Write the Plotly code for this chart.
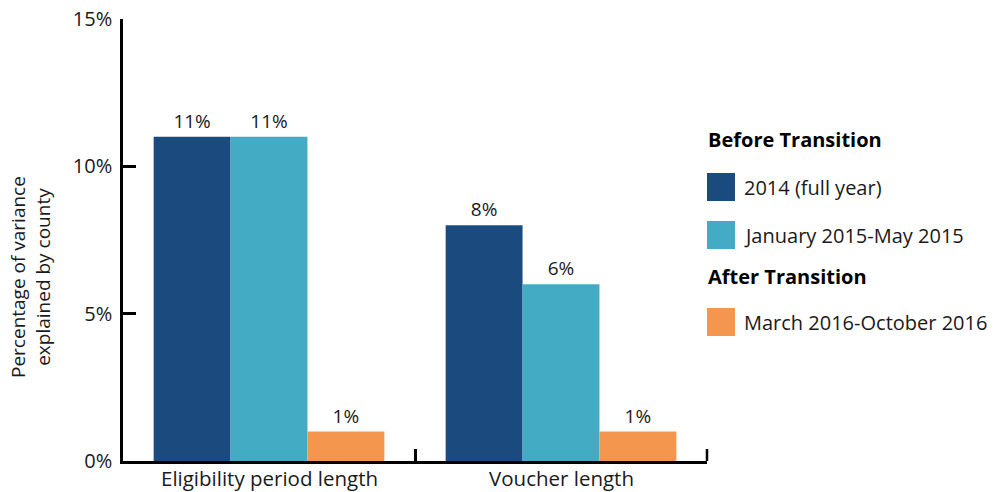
import plotly.graph_objects as go

# Data
categories = ["Eligibility period length", "Voucher length"]
series_names = ["2014 (full year)", "January 2015-May 2015", "March 2016-October 2016"]
series_groups = ["Before Transition", "Before Transition", "After Transition"]
series_values = [
    [11, 8],
    [11, 6],
    [1, 1],
]
series_colors = ["#1B4B7E", "#43ACC4", "#F5964F"]
y_tick_values = [0, 5, 10, 15]
y_tick_labels = ["0%", "5%", "10%", "15%"]

FONT = "Open Sans"
TEXT_COLOR = "#1a1a1a"

W, H = 994, 492
ML, MR, MT, MB = 123, 287, 19, 31
PW, PH = W - ML - MR, H - MT - MB


def px_x(px):
    return (px - ML) / PW


def px_y(py):
    return (H - MB - py) / PH


fig = go.Figure()
for name, vals, color in zip(series_names, series_values, series_colors):
    fig.add_trace(go.Bar(
        x=categories,
        y=vals,
        name=name,
        marker=dict(color=color, line=dict(width=0)),
        text=[f"{v}%" for v in vals],
        textposition="outside",
        textfont=dict(family=FONT, size=19, color=TEXT_COLOR),
        cliponaxis=False,
        showlegend=False,
    ))

# Custom legend with group headings and large square swatches
shapes = []
annotations = []
legend_rows = []
prev_group = None
for name, group, color in zip(series_names, series_groups, series_colors):
    if group != prev_group:
        legend_rows.append(("title", group, None))
        prev_group = group
    legend_rows.append(("item", name, color))

row_centers = [139, 187, 235, 277, 322]
sw_left, sw_size, text_left = 707, 28, 744
for (kind, label, color), cy in zip(legend_rows, row_centers):
    if kind == "title":
        annotations.append(dict(
            text=f"<b>{label}</b>", xref="paper", yref="paper",
            x=px_x(sw_left - 1), y=px_y(cy), xanchor="left", yanchor="middle",
            showarrow=False, font=dict(family=FONT, size=20, color="#000000"),
        ))
    else:
        shapes.append(dict(
            type="rect", xref="paper", yref="paper",
            x0=px_x(sw_left), x1=px_x(sw_left + sw_size),
            y0=px_y(cy + sw_size / 2), y1=px_y(cy - sw_size / 2),
            fillcolor=color, line=dict(width=0),
        ))
        annotations.append(dict(
            text=label, xref="paper", yref="paper",
            x=px_x(text_left - 2), y=px_y(cy), xanchor="left", yanchor="middle",
            showarrow=False, font=dict(family=FONT, size=20, color=TEXT_COLOR),
        ))

# Category labels under the x axis, set close to the axis line
for cat in categories:
    annotations.append(dict(
        text=cat, xref="x", yref="paper", x=cat, y=px_y(463),
        xanchor="center", yanchor="top", showarrow=False, borderpad=0,
        font=dict(family=FONT, size=20.5, color=TEXT_COLOR),
    ))

# Closing tick at the right end of the x axis
shapes.append(dict(
    type="line", xref="paper", yref="paper",
    x0=1, x1=1, y0=0, y1=px_y(461 - 12),
    line=dict(color="#000000", width=2.5),
))

# Y axis title (two lines, rotated)
annotations.append(dict(
    text="Percentage of variance<br>explained by county",
    xref="paper", yref="paper", x=px_x(31), y=px_y(277),
    xanchor="center", yanchor="middle", textangle=-90, showarrow=False,
    font=dict(family=FONT, size=19, color=TEXT_COLOR),
))

fig.update_layout(
    width=W, height=H,
    margin=dict(l=ML, r=MR, t=MT, b=MB, pad=0, autoexpand=False),
    paper_bgcolor="white", plot_bgcolor="white",
    barmode="group", bargap=0.21, bargroupgap=0,
    font=dict(family=FONT, size=20, color=TEXT_COLOR),
    shapes=shapes, annotations=annotations,
    xaxis=dict(
        type="category", range=[-0.5, 1.5], automargin=False,
        showline=True, linecolor="#000000", linewidth=2.5,
        ticks="inside", tickson="boundaries", ticklen=12, tickwidth=2.5,
        tickcolor="#000000", showgrid=False, zeroline=False,
        showticklabels=False,
    ),
    yaxis=dict(
        range=[0, 15], tickvals=y_tick_values, ticktext=y_tick_labels,
        automargin=False,
        showline=True, linecolor="#000000", linewidth=2.5,
        ticks="inside", ticklen=13, tickwidth=2.5, tickcolor="#000000",
        showgrid=False, zeroline=False, ticklabelstandoff=4,
        tickfont=dict(family=FONT, size=20, color=TEXT_COLOR),
    ),
)

fig.write_html("out.html")
